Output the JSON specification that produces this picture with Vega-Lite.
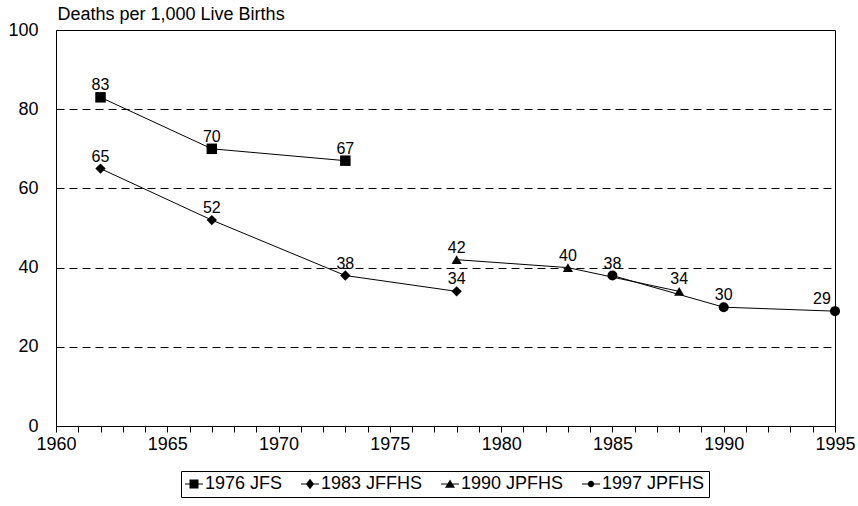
{
  "$schema": "https://vega.github.io/schema/vega-lite/v6.json",
  "width": 779,
  "height": 396,
  "autosize": {"type": "none"},
  "padding": {"left": 56, "top": 30, "right": 23, "bottom": 80},
  "config": {
    "font": "Liberation Sans",
    "view": {"stroke": "black", "strokeWidth": 1}
  },
  "data": {
    "values": [
      {"series": "1976 JFS", "year": 1962, "value": 83},
      {"series": "1976 JFS", "year": 1967, "value": 70},
      {"series": "1976 JFS", "year": 1973, "value": 67},
      {"series": "1983 JFFHS", "year": 1962, "value": 65},
      {"series": "1983 JFFHS", "year": 1967, "value": 52},
      {"series": "1983 JFFHS", "year": 1973, "value": 38},
      {"series": "1983 JFFHS", "year": 1978, "value": 34},
      {"series": "1990 JPFHS", "year": 1978, "value": 42},
      {"series": "1990 JPFHS", "year": 1983, "value": 40},
      {"series": "1990 JPFHS", "year": 1988, "value": 34},
      {"series": "1997 JPFHS", "year": 1985, "value": 38},
      {"series": "1997 JPFHS", "year": 1990, "value": 30},
      {"series": "1997 JPFHS", "year": 1995, "value": 29}
    ]
  },
  "encoding": {
    "x": {
      "field": "year", "type": "quantitative",
      "scale": {"domain": [1960, 1995], "nice": false, "zero": false},
      "axis": {
        "title": null, "grid": false,
        "values": [1960,1961,1962,1963,1964,1965,1966,1967,1968,1969,1970,1971,1972,1973,1974,1975,1976,1977,1978,1979,1980,1981,1982,1983,1984,1985,1986,1987,1988,1989,1990,1991,1992,1993,1994,1995],
        "labelExpr": "datum.value % 5 === 0 ? format(datum.value, 'd') : ''",
        "labelFont": "Liberation Sans", "labelFontSize": 18, "labelColor": "black",
        "domainColor": "black", "tickColor": "black",
        "tickSize": 6, "labelPadding": 3, "labelFlush": false, "labelOverlap": false
      }
    },
    "y": {
      "field": "value", "type": "quantitative",
      "scale": {"domain": [0, 100], "nice": false},
      "axis": {
        "values": [0, 20, 40, 60, 80, 100],
        "title": "Deaths per 1,000 Live Births",
        "titleAngle": 0, "titleX": 1, "titleY": -16, "titleAlign": "left", "titleBaseline": "middle",
        "titleFont": "Liberation Sans", "titleFontSize": 18, "titleFontWeight": "normal", "titleColor": "black",
        "labelFont": "Liberation Sans", "labelFontSize": 18, "labelColor": "black",
        "tickSize": 0, "labelPadding": 18, "domain": false,
        "grid": true, "gridColor": "black", "gridDash": [8, 5], "gridWidth": 1
      }
    }
  },
  "layer": [
    {
      "mark": {"type": "line", "color": "black", "strokeWidth": 1},
      "encoding": {"detail": {"field": "series", "type": "nominal"}}
    },
    {
      "mark": {"type": "point", "filled": true, "color": "black", "opacity": 1},
      "encoding": {
        "shape": {
          "field": "series", "type": "nominal",
          "scale": {"domain": ["1976 JFS", "1983 JFFHS", "1990 JPFHS", "1997 JPFHS"], "range": ["square", "diamond", "triangle-up", "circle"]},
          "legend": null
        },
        "size": {
          "field": "series", "type": "nominal",
          "scale": {"domain": ["1976 JFS", "1983 JFFHS", "1990 JPFHS", "1997 JPFHS"], "range": [110, 100, 110, 40]},
          "legend": null
        }
      }
    },
    {
      "mark": {"type": "point", "filled": true, "color": "black", "opacity": 0},
      "encoding": {
        "shape": {
          "field": "series", "type": "nominal",
          "scale": {"domain": ["1976 JFS", "1983 JFFHS", "1990 JPFHS", "1997 JPFHS"],
            "range": [
              "M-1,-0.06L1,-0.06L1,0.06L-1,0.06Z M-0.5,-0.5L0.5,-0.5L0.5,0.5L-0.5,0.5Z",
              "M-1,-0.06L1,-0.06L1,0.06L-1,0.06Z M0,-0.58L0.45,0L0,0.58L-0.45,0Z",
              "M-1,-0.06L1,-0.06L1,0.06L-1,0.06Z M0,-0.5L0.56,0.42L-0.56,0.42Z",
              "M-1,-0.06L1,-0.06L1,0.06L-1,0.06Z M-0.36,0A0.36,0.36,0,1,1,0.36,0A0.36,0.36,0,1,1,-0.36,0Z"
            ]},
          "legend": {
            "title": null, "orient": "none", "direction": "horizontal",
            "legendX": 125, "legendY": 441,
            "strokeColor": "black", "padding": 4,
            "symbolSize": 324, "symbolFillColor": "black", "symbolStrokeColor": "black", "symbolStrokeWidth": 0, "symbolOpacity": 1,
            "labelFont": "Liberation Sans", "labelFontSize": 18, "labelColor": "black", "labelOffset": 2, "columnPadding": 18,
            "encode": {"symbols": {"update": {"opacity": {"value": 1}, "fill": {"value": "black"}, "size": {"value": 324}}}}
          }
        }
      }
    },
    {
      "mark": {"type": "text", "fontSize": 16, "baseline": "alphabetic", "dy": -7, "color": "black", "dx": {"expr": "datum.year == 1995 ? -13 : 0"}},
      "encoding": {"text": {"field": "value", "type": "quantitative"}}
    }
  ],
  "resolve": {"scale": {"shape": "independent", "size": "independent"}, "legend": {"shape": "independent"}}
}
